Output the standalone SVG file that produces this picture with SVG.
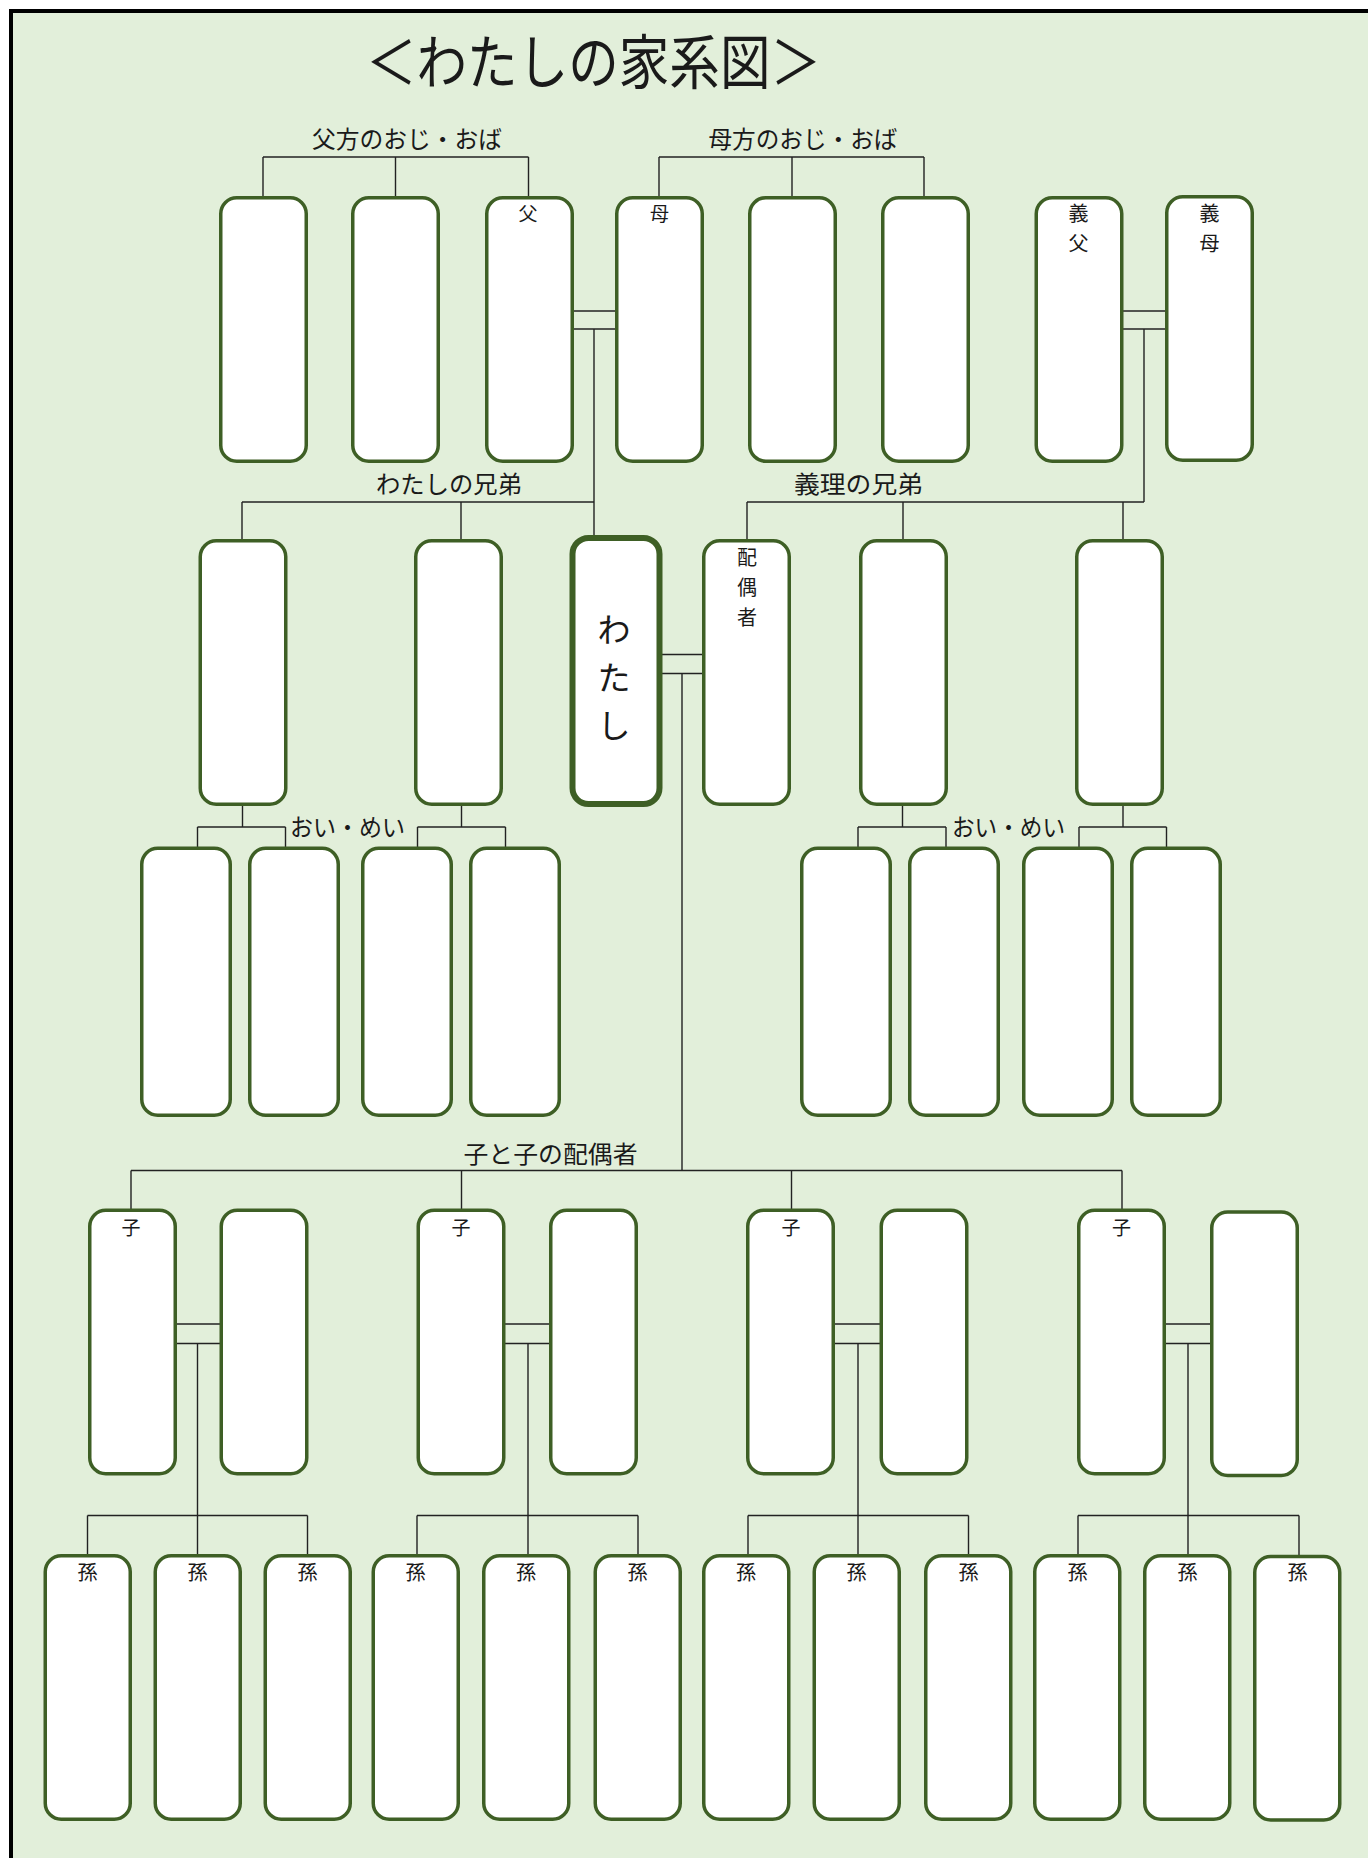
<svg xmlns="http://www.w3.org/2000/svg" width="1368" height="1858" viewBox="0 0 1368 1858">
<style>
.bx{fill:#fff;stroke:#3E5F25;stroke-width:3.5}
.me{fill:#fff;stroke:#3E5F25;stroke-width:6}
.cn line{stroke:#222;stroke-width:1.4}
text{font-family:'Liberation Serif','Noto Sans CJK JP',serif;fill:#1a1a1a}
.lb{font-size:24px;text-anchor:middle}
.sm{font-size:19px;text-anchor:middle}
.in{font-size:20px;text-anchor:middle}
</style>
<rect x="0" y="0" width="1368" height="1858" fill="#fff"/>
<rect x="11" y="11" width="1357" height="1847" fill="#E2EFDA"/>
<line x1="9" y1="11" x2="1368" y2="11" stroke="#000" stroke-width="4"/>
<line x1="11" y1="9" x2="11" y2="1858" stroke="#000" stroke-width="4"/>

<text id="title" x="366" y="84" font-size="59" textLength="455" lengthAdjust="spacingAndGlyphs">＜わたしの家系図＞</text>

<g id="labels">
<text class="lb" x="407" y="148" textLength="190" lengthAdjust="spacingAndGlyphs">父方のおじ・おば</text>
<text class="lb" x="803" y="148" textLength="189" lengthAdjust="spacingAndGlyphs">母方のおじ・おば</text>
<text class="lb" x="449" y="493" textLength="146" lengthAdjust="spacingAndGlyphs">わたしの兄弟</text>
<text class="lb" x="858.5" y="493" textLength="129" lengthAdjust="spacingAndGlyphs">義理の兄弟</text>
<text class="lb" x="347.5" y="836" textLength="115" lengthAdjust="spacingAndGlyphs">おい・めい</text>
<text class="lb" x="1008.5" y="836" textLength="113" lengthAdjust="spacingAndGlyphs">おい・めい</text>
<text class="lb" x="550.5" y="1163" textLength="174" lengthAdjust="spacingAndGlyphs">子と子の配偶者</text>
</g>

<g id="connectors" class="cn">
<line x1="263" y1="157" x2="528.5" y2="157"/>
<line x1="263" y1="157" x2="263" y2="197"/>
<line x1="395.5" y1="157" x2="395.5" y2="197"/>
<line x1="528.5" y1="157" x2="528.5" y2="197"/>
<line x1="659" y1="157" x2="924" y2="157"/>
<line x1="659" y1="157" x2="659" y2="197"/>
<line x1="792" y1="157" x2="792" y2="197"/>
<line x1="924" y1="157" x2="924" y2="197"/>
<line x1="572" y1="311" x2="616" y2="311"/>
<line x1="572" y1="329" x2="616" y2="329"/>
<line x1="594" y1="329" x2="594" y2="536"/>
<line x1="242" y1="502" x2="594" y2="502"/>
<line x1="242" y1="502" x2="242" y2="540"/>
<line x1="461" y1="502" x2="461" y2="540"/>
<line x1="1121" y1="311" x2="1166" y2="311"/>
<line x1="1121" y1="329" x2="1166" y2="329"/>
<line x1="1144" y1="329" x2="1144" y2="502"/>
<line x1="747" y1="502" x2="1144" y2="502"/>
<line x1="747" y1="502" x2="747" y2="540"/>
<line x1="903" y1="502" x2="903" y2="540"/>
<line x1="1123" y1="502" x2="1123" y2="540"/>
<line x1="662" y1="654.5" x2="703" y2="654.5"/>
<line x1="662" y1="673.5" x2="703" y2="673.5"/>
<line x1="682" y1="673.5" x2="682" y2="1170.5"/>
<line x1="131" y1="1170.5" x2="1122" y2="1170.5"/>
<line x1="131" y1="1170.5" x2="131" y2="1209"/>
<line x1="461.5" y1="1170.5" x2="461.5" y2="1209"/>
<line x1="791.5" y1="1170.5" x2="791.5" y2="1209"/>
<line x1="1122" y1="1170.5" x2="1122" y2="1209"/>
<line x1="242.5" y1="806" x2="242.5" y2="827"/>
<line x1="197.5" y1="827" x2="285.5" y2="827"/>
<line x1="197.5" y1="827" x2="197.5" y2="847"/>
<line x1="285.5" y1="827" x2="285.5" y2="847"/>
<line x1="461.5" y1="806" x2="461.5" y2="827"/>
<line x1="417.5" y1="827" x2="505.5" y2="827"/>
<line x1="417.5" y1="827" x2="417.5" y2="847"/>
<line x1="505.5" y1="827" x2="505.5" y2="847"/>
<line x1="902.5" y1="806" x2="902.5" y2="827"/>
<line x1="858" y1="827" x2="946" y2="827"/>
<line x1="858" y1="827" x2="858" y2="847"/>
<line x1="946" y1="827" x2="946" y2="847"/>
<line x1="1123" y1="806" x2="1123" y2="827"/>
<line x1="1079" y1="827" x2="1166.5" y2="827"/>
<line x1="1079" y1="827" x2="1079" y2="847"/>
<line x1="1166.5" y1="827" x2="1166.5" y2="847"/>
<line x1="176" y1="1324" x2="221" y2="1324"/>
<line x1="176" y1="1343.5" x2="221" y2="1343.5"/>
<line x1="197.5" y1="1343.5" x2="197.5" y2="1555"/>
<line x1="87.5" y1="1515.5" x2="307.5" y2="1515.5"/>
<line x1="87.5" y1="1515.5" x2="87.5" y2="1555"/>
<line x1="307.5" y1="1515.5" x2="307.5" y2="1555"/>
<line x1="504.5" y1="1324" x2="550.5" y2="1324"/>
<line x1="504.5" y1="1343.5" x2="550.5" y2="1343.5"/>
<line x1="528" y1="1343.5" x2="528" y2="1555"/>
<line x1="417" y1="1515.5" x2="638" y2="1515.5"/>
<line x1="417" y1="1515.5" x2="417" y2="1555"/>
<line x1="638" y1="1515.5" x2="638" y2="1555"/>
<line x1="834" y1="1324" x2="881" y2="1324"/>
<line x1="834" y1="1343.5" x2="881" y2="1343.5"/>
<line x1="858" y1="1343.5" x2="858" y2="1555"/>
<line x1="748" y1="1515.5" x2="968.5" y2="1515.5"/>
<line x1="748" y1="1515.5" x2="748" y2="1555"/>
<line x1="968.5" y1="1515.5" x2="968.5" y2="1555"/>
<line x1="1164.5" y1="1324" x2="1211.5" y2="1324"/>
<line x1="1164.5" y1="1343.5" x2="1211.5" y2="1343.5"/>
<line x1="1188" y1="1343.5" x2="1188" y2="1555"/>
<line x1="1078" y1="1515.5" x2="1299" y2="1515.5"/>
<line x1="1078" y1="1515.5" x2="1078" y2="1555"/>
<line x1="1299" y1="1515.5" x2="1299" y2="1555"/>
</g>

<g id="p-uncle1"><rect class="bx" x="220.75" y="197.75" width="85.5" height="263.5" rx="16"/></g>
<g id="p-uncle2"><rect class="bx" x="352.75" y="197.75" width="85.5" height="263.5" rx="16"/></g>
<g id="father"><rect class="bx" x="486.75" y="197.75" width="85.5" height="263.5" rx="16"/><text class="sm" x="528" y="221">父</text></g>
<g id="mother"><rect class="bx" x="616.75" y="197.75" width="85.5" height="263.5" rx="16"/><text class="sm" x="659.5" y="221">母</text></g>
<g id="m-uncle1"><rect class="bx" x="749.75" y="197.75" width="85.5" height="263.5" rx="16"/></g>
<g id="m-uncle2"><rect class="bx" x="882.75" y="197.75" width="85.5" height="263.5" rx="16"/></g>
<g id="father-in-law"><rect class="bx" x="1036.25" y="197.75" width="85.5" height="263.5" rx="16"/><text class="in" x="1078.5" y="221">義</text><text class="in" x="1078.5" y="251">父</text></g>
<g id="mother-in-law"><rect class="bx" x="1166.75" y="196.75" width="85.5" height="263.5" rx="16"/><text class="in" x="1209.5" y="221">義</text><text class="in" x="1209.5" y="251">母</text></g>

<g id="sibling1"><rect class="bx" x="200.25" y="540.75" width="85.5" height="263.5" rx="16"/></g>
<g id="sibling2"><rect class="bx" x="415.75" y="540.75" width="85.5" height="263.5" rx="16"/></g>
<g id="me"><rect class="me" x="572.5" y="538" width="87" height="266" rx="16"/>
<text x="614" y="642" font-size="33" text-anchor="middle">わ</text>
<text x="614" y="690" font-size="33" text-anchor="middle">た</text>
<text x="614" y="738" font-size="33" text-anchor="middle">し</text></g>
<g id="spouse"><rect class="bx" x="703.75" y="540.75" width="85.5" height="263.5" rx="16"/><text class="in" x="747" y="565">配</text><text class="in" x="747" y="595">偶</text><text class="in" x="747" y="625">者</text></g>
<g id="sibling-in-law1"><rect class="bx" x="860.75" y="540.75" width="85.5" height="263.5" rx="16"/></g>
<g id="sibling-in-law2"><rect class="bx" x="1076.75" y="540.75" width="85.5" height="263.5" rx="16"/></g>

<g id="nephew1"><rect class="bx" x="141.75" y="848.25" width="88.5" height="267" rx="16"/></g>
<g id="nephew2"><rect class="bx" x="249.75" y="848.25" width="88.5" height="267" rx="16"/></g>
<g id="nephew3"><rect class="bx" x="362.75" y="848.25" width="88.5" height="267" rx="16"/></g>
<g id="nephew4"><rect class="bx" x="470.75" y="848.25" width="88.5" height="267" rx="16"/></g>
<g id="nephew5"><rect class="bx" x="801.75" y="848.25" width="88.5" height="267" rx="16"/></g>
<g id="nephew6"><rect class="bx" x="909.75" y="848.25" width="88.5" height="267" rx="16"/></g>
<g id="nephew7"><rect class="bx" x="1023.75" y="848.25" width="88.5" height="267" rx="16"/></g>
<g id="nephew8"><rect class="bx" x="1131.75" y="848.25" width="88.5" height="267" rx="16"/></g>

<g id="child1"><rect class="bx" x="89.75" y="1210.25" width="85.5" height="263.5" rx="16"/><text class="sm" x="131" y="1235">子</text></g>
<g id="child1-spouse"><rect class="bx" x="221.25" y="1210.25" width="85.5" height="263.5" rx="16"/></g>
<g id="child2"><rect class="bx" x="418.25" y="1210.25" width="85.5" height="263.5" rx="16"/><text class="sm" x="461" y="1235">子</text></g>
<g id="child2-spouse"><rect class="bx" x="550.75" y="1210.25" width="85.5" height="263.5" rx="16"/></g>
<g id="child3"><rect class="bx" x="747.75" y="1210.25" width="85.5" height="263.5" rx="16"/><text class="sm" x="791" y="1235">子</text></g>
<g id="child3-spouse"><rect class="bx" x="881.25" y="1210.25" width="85.5" height="263.5" rx="16"/></g>
<g id="child4"><rect class="bx" x="1078.75" y="1210.25" width="85.5" height="263.5" rx="16"/><text class="sm" x="1121.5" y="1235">子</text></g>
<g id="child4-spouse"><rect class="bx" x="1211.75" y="1212" width="85.5" height="263.5" rx="16"/></g>

<g id="grandchild1"><rect class="bx" x="45.25" y="1555.75" width="85" height="263.5" rx="16"/><text class="in" x="87.5" y="1580">孫</text></g>
<g id="grandchild2"><rect class="bx" x="155.25" y="1555.75" width="85" height="263.5" rx="16"/><text class="in" x="197.5" y="1580">孫</text></g>
<g id="grandchild3"><rect class="bx" x="265.25" y="1555.75" width="85" height="263.5" rx="16"/><text class="in" x="307.5" y="1580">孫</text></g>
<g id="grandchild4"><rect class="bx" x="373.25" y="1555.75" width="85" height="263.5" rx="16"/><text class="in" x="415.5" y="1580">孫</text></g>
<g id="grandchild5"><rect class="bx" x="483.75" y="1555.75" width="85" height="263.5" rx="16"/><text class="in" x="526" y="1580">孫</text></g>
<g id="grandchild6"><rect class="bx" x="595.25" y="1555.75" width="85" height="263.5" rx="16"/><text class="in" x="637.5" y="1580">孫</text></g>
<g id="grandchild7"><rect class="bx" x="703.75" y="1555.75" width="85" height="263.5" rx="16"/><text class="in" x="746" y="1580">孫</text></g>
<g id="grandchild8"><rect class="bx" x="814.25" y="1555.75" width="85" height="263.5" rx="16"/><text class="in" x="856.5" y="1580">孫</text></g>
<g id="grandchild9"><rect class="bx" x="925.75" y="1555.75" width="85" height="263.5" rx="16"/><text class="in" x="968.5" y="1580">孫</text></g>
<g id="grandchild10"><rect class="bx" x="1034.75" y="1555.75" width="85" height="263.5" rx="16"/><text class="in" x="1077.5" y="1580">孫</text></g>
<g id="grandchild11"><rect class="bx" x="1144.75" y="1555.75" width="85" height="263.5" rx="16"/><text class="in" x="1187.5" y="1580">孫</text></g>
<g id="grandchild12"><rect class="bx" x="1254.75" y="1556.5" width="85" height="263.5" rx="16"/><text class="in" x="1297.5" y="1580">孫</text></g>
</svg>
